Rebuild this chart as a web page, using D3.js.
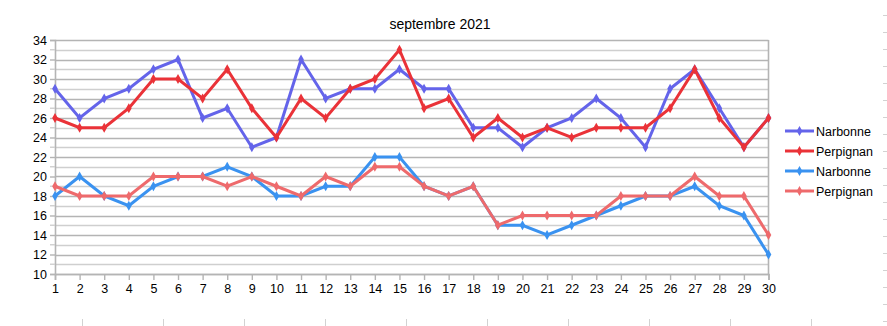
<!DOCTYPE html>
<html>
<head>
<meta charset="utf-8">
<script src="https://cdn.jsdelivr.net/npm/d3@7"></script>
<style>
  html, body { margin: 0; padding: 0; background: #fff; }
  svg { display: block; font-family: "Liberation Sans", Arial, sans-serif; }
</style>
</head>
<body>
<svg id="chart" width="887" height="326"></svg>
<script>
// Daily temperatures, September 2021
const days = d3.range(1, 31);
const narbonneMax  = [29,26,28,29,31,32,26,27,23,24,32,28,29,29,31,29,29,25,25,23,25,26,28,26,23,29,31,27,23,26];
const perpignanMax = [26,25,25,27,30,30,28,31,27,24,28,26,29,30,33,27,28,24,26,24,25,24,25,25,25,27,31,26,23,26];
const narbonneMin  = [18,20,18,17,19,20,20,21,20,18,18,19,19,22,22,19,18,19,15,15,14,15,16,17,18,18,19,17,16,12];
const perpignanMin = [19,18,18,18,20,20,20,19,20,19,18,20,19,21,21,19,18,19,15,16,16,16,16,18,18,18,20,18,18,14];
const seriesNames  = ["Narbonne", "Perpignan", "Narbonne", "Perpignan"];
const yTicks = d3.range(10, 35, 2);
const title = "septembre 2021";

const series = [
  { name: seriesNames[0], values: narbonneMax,  color: "#6464ea" },
  { name: seriesNames[1], values: perpignanMax, color: "#ea3238" },
  { name: seriesNames[2], values: narbonneMin,  color: "#3a92f0" },
  { name: seriesNames[3], values: perpignanMin, color: "#ee6a6c" }
];

const svg = d3.select("#chart");
const plotLeft = 55, plotRight = 768.5, plotTop = 40, plotBottom = 274;

const x = d3.scaleLinear().domain([1, 30]).range([plotLeft, plotRight]);
const y = d3.scaleLinear().domain([10, 34]).range([plotBottom, plotTop]);

// horizontal grid, every unit; even values slightly darker
const grid = svg.append("g");
d3.range(10, 35).forEach(v => {
  grid.append("line")
    .attr("x1", plotLeft).attr("x2", plotRight)
    .attr("y1", Math.round(y(v)) + 0.5).attr("y2", Math.round(y(v)) + 0.5)
    .attr("stroke", v % 2 === 0 ? "#b4b4b4" : "#cfcfcf")
    .attr("stroke-width", 1.6);
});

// right frame
svg.append("line")
  .attr("x1", plotRight).attr("x2", plotRight).attr("y1", plotTop).attr("y2", plotBottom)
  .attr("stroke", "#b4b4b4").attr("stroke-width", 1.6);

// y axis
const yAxis = svg.append("g")
  .attr("transform", `translate(${plotLeft},0)`)
  .call(d3.axisLeft(y).tickValues(yTicks).tickSize(5).tickPadding(3).tickFormat(d3.format("d")));
yAxis.selectAll(".tick line").attr("stroke", "#b4b4b4").attr("stroke-width", 1.4);
yAxis.select(".domain").attr("stroke", "#b4b4b4").attr("stroke-width", 1.6);
// minor ticks at odd values
yAxis.selectAll(".minor").data(d3.range(11, 34, 2)).enter().append("line")
  .attr("x1", -5).attr("x2", 0)
  .attr("y1", d => y(d)).attr("y2", d => y(d))
  .attr("stroke", "#cfcfcf").attr("stroke-width", 1.4);
yAxis.selectAll(".tick text").attr("font-size", 12.5).attr("fill", "#000")
  .attr("font-family", "Liberation Sans, Arial, sans-serif");

// x axis
const xAxis = svg.append("g")
  .attr("transform", `translate(0,${plotBottom})`)
  .call(d3.axisBottom(x).tickValues(days).tickSize(6).tickPadding(4).tickFormat(d3.format("d")));
xAxis.selectAll(".tick line").attr("stroke", "#b4b4b4").attr("stroke-width", 1.4);
xAxis.select(".domain").attr("stroke", "#b4b4b4").attr("stroke-width", 1.6);
xAxis.selectAll(".tick text").attr("font-size", 12.5).attr("fill", "#000")
  .attr("font-family", "Liberation Sans, Arial, sans-serif");

// title
svg.append("text")
  .attr("x", 440).attr("y", 29)
  .attr("text-anchor", "middle")
  .attr("font-size", 14)
  .text(title);

const line = d3.line().x((d, i) => x(days[i])).y(d => y(d));
const diamond = d3.symbol().type(d3.symbolDiamond).size(28);

series.forEach(s => {
  const g = svg.append("g");
  g.append("path")
    .datum(s.values)
    .attr("d", line)
    .attr("fill", "none")
    .attr("stroke", s.color)
    .attr("stroke-width", 3)
    .attr("stroke-linejoin", "miter");
  g.selectAll("path.pt").data(s.values).enter().append("path")
    .attr("class", "pt")
    .attr("d", diamond)
    .attr("transform", (d, i) => `translate(${x(days[i])},${y(d)})`)
    .attr("fill", s.color);
});

// legend
const legend = svg.append("g").attr("transform", "translate(785,131)");
series.forEach((s, i) => {
  const row = legend.append("g").attr("transform", `translate(0,${i * 20})`);
  row.append("line").attr("x1", 0).attr("x2", 29).attr("y1", 0).attr("y2", 0)
    .attr("stroke", s.color).attr("stroke-width", 3);
  row.append("path").attr("d", diamond).attr("transform", "translate(14.5,0)").attr("fill", s.color);
  row.append("text").attr("x", 31).attr("y", 4.5).attr("font-size", 12.5).text(s.name);
});

// faint sheet borders around the chart
const edge = svg.append("g").attr("stroke", "#d2d2d2").attr("stroke-width", 1);
d3.range(15, 326, 17).forEach(v => {
  edge.append("line").attr("x1", 883).attr("x2", 887).attr("y1", v + 0.5).attr("y2", v + 0.5);
});
d3.range(82, 887, 81).forEach(v => {
  edge.append("line").attr("x1", v + 0.5).attr("x2", v + 0.5).attr("y1", 319).attr("y2", 326);
});
</script>
</body>
</html>
